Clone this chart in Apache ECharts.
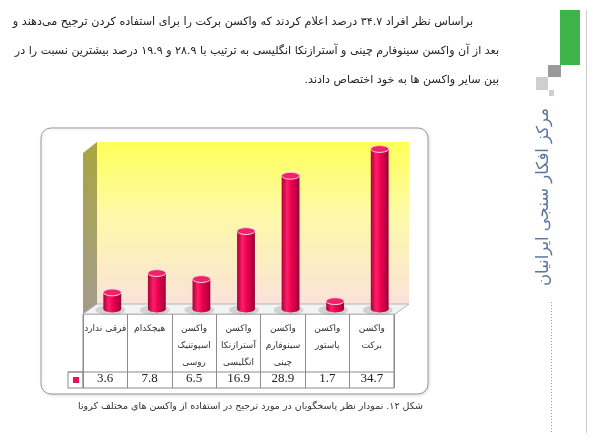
<!DOCTYPE html>
<html>
<head>
<meta charset="utf-8">
<script src="https://cdn.jsdelivr.net/npm/echarts@6/dist/echarts.min.js"></script>
<style>
html,body{margin:0;padding:0;background:#fff;}
#chart{width:613px;height:446px;}
</style>
</head>
<body>
<div id="chart"></div>
<script>
// ---- data ----
const categories = ['فرقی ندارد', 'هیچکدام', 'واکسن\nاسپوتنیک\nروسی', 'واکسن\nآسترازنکا\nانگلیسی', 'واکسن\nسینوفارم\nچینی', 'واکسن\nپاستور', 'واکسن\nبرکت'];
const values = [3.6, 7.8, 6.5, 16.9, 28.9, 1.7, 34.7];
const valueLabels = ['3.6', '7.8', '6.5', '16.9', '28.9', '1.7', '34.7'];
const paragraphLines = [
  'براساس نظر افراد ۳۴.۷ درصد اعلام کردند که واکسن برکت را برای استفاده کردن ترجیح می‌دهند و',
  'بعد از آن واکسن سینوفارم چینی و آسترازنکا انگلیسی به ترتیب با ۲۸.۹ و ۱۹.۹ درصد بیشترین نسبت را در',
  'بین سایر واکسن ها به خود اختصاص دادند.'
];
const captionText = 'شکل ۱۲. نمودار نظر پاسخگویان در مورد ترجیح در استفاده از واکسن های مختلف کرونا';
const sideTitle = 'مرکز افکار سنجی ایرانیان';
const yMax = 35.35;

const RLM = '\u200F';
const faFont = 'DejaVu Sans';

const chart = echarts.init(document.getElementById('chart'));

const bodyGrad = new echarts.graphic.LinearGradient(0, 0, 1, 0, [
  {offset: 0, color: '#a8003c'},
  {offset: 0.3, color: '#ff1f66'},
  {offset: 0.55, color: '#ee0052'},
  {offset: 1, color: '#9a0036'}
]);

function renderBar(params, api) {
  const i = api.value(0);
  const v = api.value(1);
  const top = api.coord([i, v]);
  const base = api.coord([i, 0]);
  const bw = api.size([1, 0])[0] * 0.4;
  const rx = bw / 2, ry = bw * 0.19;
  const cx = top[0];
  return {
    type: 'group',
    children: [
      {type: 'ellipse', shape: {cx: cx - 2, cy: base[1] + 1, rx: rx + 6, ry: ry + 1.5},
        style: {fill: 'rgba(150,150,150,0.35)'}},
      {type: 'rect', shape: {x: cx - rx, y: top[1], width: bw, height: base[1] - top[1]},
        style: {fill: bodyGrad}},
      {type: 'ellipse', shape: {cx: cx, cy: base[1], rx: rx, ry: ry}, style: {fill: bodyGrad}},
      {type: 'ellipse', shape: {cx: cx, cy: top[1], rx: rx, ry: ry},
        style: {fill: '#f0236a', stroke: '#ffd6e2', lineWidth: 1}}
    ]
  };
}

function txt(x, y, text, size, color) {
  return {type: 'text', x: x, y: y,
    style: {text: RLM + text + RLM, font: size + 'px "' + faFont + '"', fill: color, align: 'right', verticalAlign: 'middle'}};
}

const option = {
  animation: false,
  backgroundColor: '#fff',
  grid: [
    {left: 97, top: 142, width: 312, height: 162, show: true, borderWidth: 0,
      backgroundColor: new echarts.graphic.LinearGradient(0, 0, 0, 1, [
        {offset: 0, color: '#ffff58'},
        {offset: 0.45, color: '#fdf9a8'},
        {offset: 1, color: '#fbe2da'}
      ])},
    {left: 90, top: 146, width: 312, height: 163},
    {left: 83, top: 314, width: 311, height: 74, show: true, borderColor: '#8c8c8c', borderWidth: 1,
      backgroundColor: 'transparent'}
  ],
  xAxis: [
    {gridIndex: 0, type: 'category', data: categories, show: false},
    {gridIndex: 1, type: 'category', data: categories, show: false},
    {gridIndex: 2, type: 'category', data: categories, position: 'top',
      axisLine: {show: false}, axisTick: {show: false},
      splitLine: {show: true, lineStyle: {color: '#8c8c8c', width: 1}},
      axisLabel: {inside: true, margin: 6, interval: 0, color: '#333', fontFamily: faFont,
        fontSize: 9, lineHeight: 17, align: 'center', verticalAlign: 'top'}},
    {gridIndex: 2, type: 'category', data: valueLabels, position: 'bottom',
      axisLine: {show: false}, axisTick: {show: false}, splitLine: {show: false},
      axisLabel: {inside: true, margin: 2, interval: 0, color: '#222', fontFamily: 'Liberation Serif',
        fontSize: 13, lineHeight: 14}}
  ],
  yAxis: [
    {gridIndex: 0, type: 'value', min: 0, max: yMax, show: false},
    {gridIndex: 1, type: 'value', min: 0, max: yMax, show: false},
    {gridIndex: 2, type: 'value', min: 0, max: 74, show: false}
  ],
  series: [{
    type: 'custom',
    xAxisIndex: 1, yAxisIndex: 1,
    renderItem: renderBar,
    encode: {x: 0, y: 1},
    data: values.map((v, i) => [i, v]),
    z: 5
  }],
  graphic: [
    {type: 'rect', z: -10, shape: {x: 41, y: 128, width: 387, height: 266, r: 10},
      style: {fill: '#fff', stroke: '#9a9a9a', lineWidth: 1,
        shadowColor: 'rgba(0,0,0,0.12)', shadowBlur: 3, shadowOffsetX: 1, shadowOffsetY: 1}},
    {type: 'polygon', z: 1, shape: {points: [[83, 153], [97, 142], [97, 304], [83, 314]]},
      style: {fill: new echarts.graphic.LinearGradient(0, 0, 0, 1, [
        {offset: 0, color: '#a9a63e'}, {offset: 1, color: '#a39b8e'}])}},
    {type: 'polygon', z: 1, shape: {points: [[83, 314], [97, 304], [409, 304], [395, 314]]},
      style: {fill: '#f3f3f3', stroke: '#b5b5b5', lineWidth: 1}},
    {type: 'line', z: 10, shape: {x1: 68, y1: 372, x2: 394, y2: 372}, style: {stroke: '#8c8c8c', lineWidth: 1}},
    {type: 'rect', z: 10, shape: {x: 68, y: 372, width: 15, height: 16}, style: {fill: 'none', stroke: '#8c8c8c', lineWidth: 1}},
    {type: 'rect', z: 10, shape: {x: 73, y: 377, width: 6, height: 6}, style: {fill: '#e8105c'}},
    txt(473, 22, paragraphLines[0], 11.2, '#222'),
    txt(499, 51, paragraphLines[1], 11.1, '#222'),
    txt(499, 80, paragraphLines[2], 11.1, '#222'),
    txt(423, 407, captionText, 9.5, '#333'),
    {type: 'rect', shape: {x: 560, y: 10, width: 20, height: 55}, style: {fill: '#3cb44a'}},
    {type: 'rect', shape: {x: 548, y: 65, width: 13, height: 12}, style: {fill: '#9a9a9a'}},
    {type: 'rect', shape: {x: 536, y: 77, width: 12, height: 13}, style: {fill: '#cfcfcf'}},
    {type: 'rect', shape: {x: 549, y: 90, width: 5, height: 6}, style: {fill: '#cfcfcf'}},
    {type: 'line', shape: {x1: 586.5, y1: 10, x2: 586.5, y2: 433}, style: {stroke: '#cccccc', lineWidth: 1}},
    {type: 'line', shape: {x1: 551.5, y1: 302, x2: 551.5, y2: 433}, style: {stroke: '#999999', lineWidth: 1, lineDash: [1, 2]}},
    {type: 'text', x: 544, y: 197, rotation: Math.PI / 2,
      style: {text: RLM + sideTitle + RLM, font: '16.5px "' + faFont + '"', fill: '#5a76a0', align: 'center', verticalAlign: 'middle'}}
  ]
};
chart.setOption(option);
</script>
</body>
</html>
